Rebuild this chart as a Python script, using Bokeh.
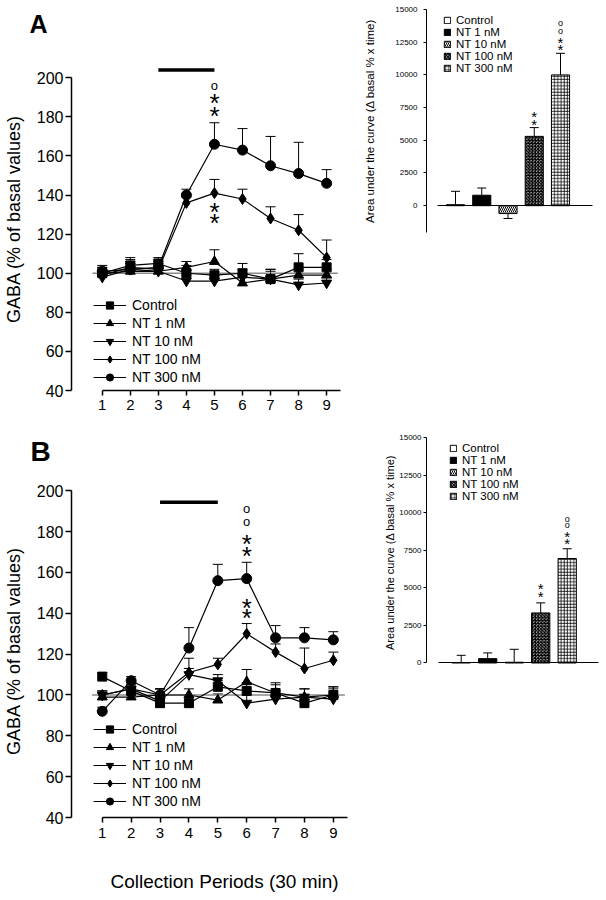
from bokeh.plotting import figure
from bokeh.models import (ColumnDataSource, Whisker, TeeHead, FixedTicker, Title,
                          Legend, LegendItem, Range1d)
from bokeh.layouts import row, column
from bokeh.embed import file_html
from bokeh.resources import INLINE
from bokeh.core.properties import value

FONT = "Liberation Sans"

# ---------------- data ----------------
periods = [1, 2, 3, 4, 5, 6, 7, 8, 9]
series_names = ["Control", "NT 1 nM", "NT 10 nM", "NT 100 nM", "NT 300 nM"]
markers = ["square", "triangle", "inverted_triangle", "diamond", "circle"]
nt_period = [3, 5]
basal = 100

# Panel A (mean, SEM)
A_control = [100, 104, 105, 100, 99, 100, 97, 103, 103]
A_control_err = [3, 4, 3, 4, 3, 5, 5, 7, 4]
A_nt1 = [100, 101, 101, 103, 106, 95, 97, 99, 99]
A_nt1_err = [3, 4, 2, 3, 6, 5, 4, 3, 3]
A_nt10 = [98, 102, 101, 96, 96, 98, 97, 94, 95]
A_nt10_err = [2, 3, 2, 3, 3, 4, 5, 3, 3]
A_nt100 = [99, 103, 102, 136, 141, 138, 128, 122, 108]
A_nt100_err = [3, 4, 3, 3, 7, 5, 6, 8, 9]
A_nt300 = [101, 102, 103, 140, 166, 163, 155, 151, 146]
A_nt300_err = [3, 4, 3, 3, 11, 11, 15, 16, 7]

# Panel B (mean, SEM)
B_control = [109, 102, 96, 96, 104, 102, 101, 96, 100]
B_control_err = [2, 3, 4, 3, 3, 4, 4, 4, 4]
B_nt1 = [99, 99, 100, 100, 97.5, 106.5, 101, 99, 100]
B_nt1_err = [2, 2, 3, 3, 3, 6, 5, 4, 4]
B_nt10 = [100, 103, 97, 110, 107, 96, 98, 99, 98]
B_nt10_err = [2, 3, 4, 3, 3, 4, 4, 4, 5]
B_nt100 = [100, 103, 100, 111, 115, 130, 121, 113, 117]
B_nt100_err = [2, 3, 3, 7, 3, 5, 4, 10, 4]
B_nt300 = [92, 107, 100, 123, 156, 157, 128, 128, 127]
B_nt300_err = [2, 2, 3, 10, 8, 8, 6, 5, 4]

# Area under the curve insets
auc_groups = ["Control", "NT 1 nM", "NT 10 nM", "NT 100 nM", "NT 300 nM"]
A_auc = [80, 800, -600, 5300, 10000]
A_auc_err = [1020, 550, 380, 670, 1650]
B_auc = [30, 290, 50, 3330, 6950]
B_auc_err = [480, 380, 860, 670, 650]

y_ticks_main = [40, 60, 80, 100, 120, 140, 160, 180, 200]
y_ticks_auc = [0, 2500, 5000, 7500, 10000, 12500, 15000]

GABA_LABEL = "GABA (% of basal values)"
AUC_LABEL = "Area under the curve (\u0394 basal % x time)"
X_LABEL = "Collection Periods (30 min)"


# ---------------- helpers ----------------
def base_fig(width, height, xr, yr, bl, br, bt, bb):
    p = figure(width=width, height=height, x_range=Range1d(*xr), y_range=Range1d(*yr),
               output_backend="svg", toolbar_location=None,
               min_border_left=bl, min_border_right=br, min_border_top=bt, min_border_bottom=bb)
    p.outline_line_color = None
    p.xgrid.visible = False
    p.ygrid.visible = False
    p.background_fill_color = "white"
    p.border_fill_color = "white"
    return p


def sig_marks(p, x, cap, marks, size_star, size_o):
    # marks: list of (symbol, pixel offset above the reference point)
    for sym, off in marks:
        if sym == "*":
            p.text(x=[x], y=[cap], text=["*"], y_offset=[-off + size_star * 0.15],
                   text_font=value(FONT), text_font_size=f"{size_star}px",
                   text_align="center", text_baseline="middle", text_color="black")
        else:
            p.text(x=[x], y=[cap], text=["o"], y_offset=[-off - size_o * 0.2],
                   text_font=value(FONT), text_font_size=f"{size_o}px",
                   text_align="center", text_baseline="middle", text_color="black")


def panel_letter(p, letter, size, offset, standoff):
    p.title.text = letter
    p.title.align = "left"
    p.title.vertical_align = "middle"
    p.title.offset = offset
    p.title.standoff = standoff
    p.title.text_font = FONT
    p.title.text_font_size = size
    p.title.text_font_style = "bold"
    p.title.text_color = "black"


def main_panel(width, height, xr, yr, bl, br, bt, bb, data, bar_y, legend_vy, xstand):
    p = base_fig(width, height, xr, yr, bl, br, bt, bb)
    xa = p.xaxis[0]
    xa.ticker = FixedTicker(ticks=periods)
    xa.bounds = (1, 9.5)
    xa.major_tick_out = 5
    xa.major_tick_in = 0
    xa.minor_tick_line_color = None
    xa.major_label_standoff = xstand
    xa.axis_line_width = 1.5
    xa.major_tick_line_width = 1.5
    xa.major_label_text_font = FONT
    xa.major_label_text_font_size = "15px"
    xa.major_label_text_color = "black"
    ya = p.yaxis[0]
    ya.ticker = FixedTicker(ticks=y_ticks_main)
    ya.bounds = (40, 200)
    ya.major_tick_out = 6
    ya.major_tick_in = 0
    ya.minor_tick_line_color = None
    ya.major_label_standoff = 2
    ya.axis_line_width = 1.5
    ya.major_tick_line_width = 1.5
    ya.major_label_text_font = FONT
    ya.major_label_text_font_size = "16px"
    ya.major_label_text_color = "black"
    ya.axis_label = GABA_LABEL
    ya.axis_label_text_font = FONT
    ya.axis_label_text_font_size = "18px"
    ya.axis_label_text_font_style = "normal"
    ya.axis_label_text_color = "black"
    ya.axis_label_standoff = 10

    # basal reference line
    p.segment(x0=[periods[0] - 0.35], y0=[basal], x1=[periods[-1] + 0.4], y1=[basal],
              line_color="#8a8a8a", line_width=1.6)
    # NT perfusion bar
    p.line(x=nt_period, y=[bar_y, bar_y], line_color="black", line_width=3.5)

    items = []
    sizes = {"square": 9, "triangle": 10, "inverted_triangle": 10, "diamond": 11, "circle": 10}
    for name, mk, (ys, es) in zip(series_names, markers, data):
        src = ColumnDataSource(dict(x=periods, y=ys, upper=[a + b for a, b in zip(ys, es)]))
        p.add_layout(Whisker(source=src, base="x", lower="y", upper="upper", dimension="height",
                             line_color="black", line_width=1,
                             upper_head=TeeHead(size=10, line_color="black", line_width=1),
                             lower_head=None))
        r1 = p.line("x", "y", source=src, line_color="black", line_width=1.2)
        r2 = p.scatter("x", "y", source=src, marker=mk, size=sizes[mk], fill_color="black",
                       line_color="black")
        items.append(LegendItem(label=name, renderers=[r1, r2]))

    p.add_layout(Legend(items=items, location=(22, legend_vy), orientation="vertical",
                        glyph_width=33, glyph_height=18, label_height=18, spacing=0,
                        label_standoff=6, padding=0, margin=0,
                        border_line_color=None, background_fill_alpha=0,
                        label_text_font=FONT, label_text_font_size="14px",
                        label_text_color="black"))
    return p


def auc_panel(width, height, xr, yr, bl, bt, bb, vals, errs, base_bounds, ybounds,
              tick_standoff, label_standoff, label_size, legend_loc):
    p = base_fig(width, height, xr, yr, bl, 0, bt, bb)
    xa = p.xaxis[0]
    xa.fixed_location = 0
    xa.ticker = FixedTicker(ticks=[])
    xa.bounds = base_bounds
    xa.axis_line_width = 1
    xa.major_tick_line_color = None
    xa.minor_tick_line_color = None
    xa.major_label_text_font_size = "0px"
    ya = p.yaxis[0]
    ya.ticker = FixedTicker(ticks=y_ticks_auc)
    ya.bounds = ybounds
    ya.major_tick_out = 3
    ya.major_tick_in = 0
    ya.minor_tick_line_color = None
    ya.axis_line_width = 1
    ya.major_label_standoff = tick_standoff
    ya.major_label_text_font = FONT
    ya.major_label_text_font_size = "8px"
    ya.major_label_text_color = "black"
    ya.axis_label = AUC_LABEL
    ya.axis_label_text_font = FONT
    ya.axis_label_text_font_size = label_size
    ya.axis_label_text_font_style = "normal"
    ya.axis_label_text_color = "black"
    ya.axis_label_standoff = label_standoff

    styles = [
        dict(fill_color="white"),
        dict(fill_color="black"),
        dict(fill_color="white", hatch_pattern="left_diagonal_line", hatch_color="black",
             hatch_scale=4, hatch_weight=1),
        dict(fill_color="white", hatch_pattern="criss_cross", hatch_color="black",
             hatch_scale=3.2, hatch_weight=1),
        dict(fill_color="white", hatch_pattern="cross", hatch_color="black",
             hatch_scale=3.2, hatch_weight=0.8),
    ]
    xs = list(range(len(vals)))
    tips = [v + (e if v >= 0 else -e) for v, e in zip(vals, errs)]
    wsrc = ColumnDataSource(dict(x=xs, y=vals, tip=tips))
    p.add_layout(Whisker(source=wsrc, base="x", lower="y", upper="tip", dimension="height",
                         line_color="black", line_width=1,
                         upper_head=TeeHead(size=9, line_color="black", line_width=1),
                         lower_head=None))
    items = []
    for i, (g, v, st) in enumerate(zip(auc_groups, vals, styles)):
        src = ColumnDataSource(dict(x=[i], top=[v]))
        r = p.vbar(x="x", top="top", bottom=0, width=0.69, source=src,
                   line_color="black", line_width=1, **st)
        items.append(LegendItem(label=g, renderers=[r]))
    p.add_layout(Legend(items=items, location=legend_loc, glyph_width=8, glyph_height=8,
                        label_height=11, spacing=0, label_standoff=5, padding=0, margin=0,
                        border_line_color=None, background_fill_alpha=0,
                        label_text_font=FONT, label_text_font_size="11.5px",
                        label_text_color="black"))
    return p, tips


# ---------------- Panel A ----------------
dataA = [(A_control, A_control_err), (A_nt1, A_nt1_err), (A_nt10, A_nt10_err),
         (A_nt100, A_nt100_err), (A_nt300, A_nt300_err)]
pA = main_panel(360, 418, (-0.097, 9.744), (40, 215.5), 69, 13, 46, 28, dataA, 204, 4, 4)
i5 = periods.index(5)
sig_marks(pA, 5, A_nt300[i5] + A_nt300_err[i5], [("*", 11), ("*", 23.5), ("o", 35)], 26, 13)
sig_marks(pA, 5, A_nt100[i5], [("*", -14.5), ("*", -25.5)], 26, 13)
panel_letter(pA, "A", "25px", -42, 17)

iA, tipsA = auc_panel(246, 400, (-1.105, 5.752), (-2050, 15000), 66, 9, 168,
                      A_auc, A_auc_err, (-0.67, 5.21), (-2050, 15000), 6, 16, "11.5px",
                      (17, 158))
sig_marks(iA, 3, tipsA[3], [("*", 5), ("*", 13.4)], 15, 9)
sig_marks(iA, 4, tipsA[4], [("*", 5.7), ("*", 13.3), ("o", 20.7), ("o", 28.3)], 15, 9)

# ---------------- Panel B ----------------
dataB = [(B_control, B_control_err), (B_nt1, B_nt1_err), (B_nt10, B_nt10_err),
         (B_nt100, B_nt100_err), (B_nt300, B_nt300_err)]
pB = main_panel(360, 480, (-0.065, 9.49), (40, 203.1), 69, 13, 66, 81, dataB, 194.4, 7, 5)
i6 = periods.index(6)
sig_marks(pB, 6, B_nt300[i6] + B_nt300_err[i6],
          [("*", 10), ("*", 22.4), ("o", 37.7), ("o", 50.7)], 26, 13)
sig_marks(pB, 6, B_nt100[i6] + B_nt100_err[i6], [("*", 9.6), ("*", 19.6)], 26, 13)
panel_letter(pB, "B", "28px", -41, 33)
# spacer panel, then the x-axis title
pB.add_layout(Title(text=" ", text_font_size="2px", standoff=23), "below")
pB.add_layout(Title(text=X_LABEL, align="left", offset=39, standoff=2,
                    text_font=FONT, text_font_size="19px", text_font_style="normal",
                    text_color="black"), "below")

iB, tipsB = auc_panel(246, 498, (-1.309, 5.483), (-300, 15000), 66, 37, 231,
                      B_auc, B_auc_err, (-0.85, 5.18), (0, 15000), 2, 0, "11px",
                      (23, 165))
sig_marks(iB, 3, tipsB[3], [("*", 8.3), ("*", 16.7)], 15, 9)
sig_marks(iB, 4, tipsB[4], [("*", 7.7), ("*", 14.4), ("o", 21.7), ("o", 28.4)], 15, 9)

layout = row(column(pA, pB), column(iA, iB))
open("out.html", "w").write(file_html(layout, INLINE))
